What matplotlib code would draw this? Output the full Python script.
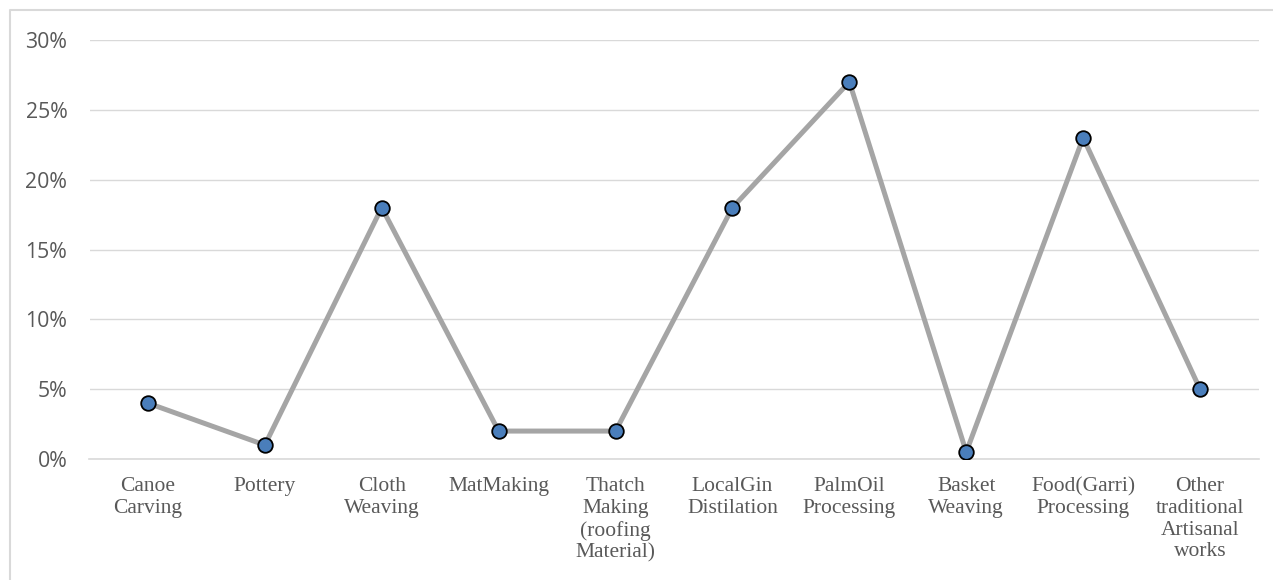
import matplotlib.pyplot as plt
from matplotlib.lines import Line2D
from matplotlib.ticker import FuncFormatter

# data
categories = ['Canoe\nCarving', 'Pottery', 'Cloth\nWeaving', 'MatMaking',
              'Thatch\nMaking\n(roofing\nMaterial)', 'LocalGin\nDistilation',
              'PalmOil\nProcessing', 'Basket\nWeaving', 'Food(Garri)\nProcessing',
              'Other\ntraditional\nArtisanal\nworks']
values = [4, 1, 18, 2, 2, 18, 27, 0.5, 23, 5]
yticks = [0, 5, 10, 15, 20, 25, 30]

W, H = 1273, 580
fig = plt.figure(figsize=(W / 100, H / 100), dpi=100)
ax = fig.add_axes([89.5 / W, 1 - 459 / H, (1258.5 - 89.5) / W, (459 - 40) / H])

# outer chart border (only top and left edges are visible)
bx, by = 10 / W, 1 - 10 / H
fig.lines.append(Line2D([bx, bx, 1], [0, by, by], transform=fig.transFigure,
                        color='#D9D9D9', linewidth=1.5))

x = list(range(len(categories)))
ax.plot(x, values, color='#A5A5A5', linewidth=3.6, zorder=3,
        marker='o', markersize=10.5, markerfacecolor='#4A7EBB',
        markeredgecolor='black', markeredgewidth=1.3)

ax.set_xlim(-0.5, len(categories) - 0.5)
ax.set_ylim(0, 30)
ax.set_yticks(yticks)
ax.yaxis.set_major_formatter(FuncFormatter(lambda v, p: f'{v:.0f}%'))
ax.grid(axis='y', color='#D9D9D9', linewidth=1)
ax.set_axisbelow(True)
for s in ['top', 'right', 'left']:
    ax.spines[s].set_visible(False)
ax.spines['bottom'].set_color('#D9D9D9')
ax.spines['bottom'].set_linewidth(1.2)
ax.tick_params(length=0)
ax.tick_params(axis='y', pad=16, labelsize=15.3, labelcolor='#595959')
for lab in ax.get_yticklabels():
    lab.set_family('Open Sans')

ax.set_xticks(x)
ax.set_xticklabels(categories, family='Liberation Serif', fontsize=15.5,
                   color='#595959', linespacing=1.2, va='top')
ax.tick_params(axis='x', pad=13)

fig.savefig('out.png', dpi=100)
